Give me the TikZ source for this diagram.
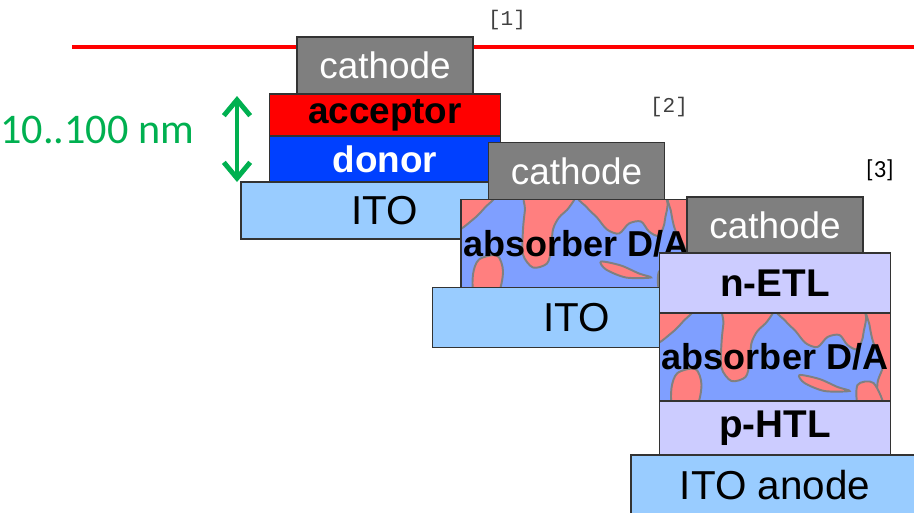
\documentclass[tikz,border=0pt]{standalone}
\usepackage{fontspec}
\setmainfont{Liberation Sans}
\newfontfamily\labelfont{Carlito}
\newfontfamily\reffont{Liberation Mono}
\usetikzlibrary{arrows.meta, positioning}

\definecolor{cathodegray}{RGB}{127,127,127}
\definecolor{acceptorred}{RGB}{255,0,0}
\definecolor{donorblue}{RGB}{0,64,255}
\definecolor{itoblue}{RGB}{153,204,255}
\definecolor{transportlilac}{RGB}{204,204,255}
\definecolor{blendblue}{RGB}{127,159,255}
\definecolor{blendred}{RGB}{255,127,127}
\definecolor{blendedge}{RGB}{128,128,128}
\definecolor{dimgreen}{RGB}{0,176,80}

\newcommand{\pxu}{0.02cm}

\tikzset{
    layer/.style={rectangle, draw=black!80, line width=1pt, inner sep=0pt, outer sep=0pt, align=center},
    cathode/.style={layer, fill=cathodegray, text=white, font=\fontsize{21}{24}\selectfont, minimum width=176*\pxu, minimum height=57*\pxu},
    acceptor/.style={layer, fill=acceptorred, font=\bfseries\fontsize{21}{24}\selectfont, minimum width=231*\pxu, minimum height=42*\pxu},
    donor/.style={layer, fill=donorblue, text=white, font=\bfseries\fontsize{21}{24}\selectfont, minimum width=231*\pxu, minimum height=46*\pxu},
    ito/.style={layer, fill=itoblue, font=\fontsize{23}{26}\selectfont, minimum width=288*\pxu, minimum height=57*\pxu},
    transport/.style={layer, fill=transportlilac, font=\bfseries\fontsize{22}{25}\selectfont, minimum width=231*\pxu, minimum height=60*\pxu},
    blendbase/.style={rectangle, fill=blendblue, inner sep=0pt, outer sep=0pt, minimum width=231*\pxu, minimum height=88*\pxu},
    absorber/.style={layer, font=\bfseries\fontsize{20.5}{24}\selectfont, minimum width=231*\pxu, minimum height=88*\pxu},
    blob/.style={fill=blendred, draw=blendedge, line width=1.1pt},
    contact/.style={draw=red, line width=2.3pt},
    dimarrow/.style={draw=dimgreen, line width=2.8pt, line cap=round, {Straight Barb[length=9pt,width=15pt]}-{Straight Barb[length=9pt,width=15pt]}},
    ref/.style={font=\reffont\fontsize{12}{14}\selectfont, text=black!75},
    % phase pattern of the donor/acceptor blend, origin at the top left corner
    blend/.pic={
        \begin{scope}
            \clip (0,0) rectangle (231,88);
            \draw[blob] plot[smooth cycle] coordinates {(-5,-5) (34,-5) (24,8) (12,20) (-5,30)};
            \draw[blob] plot[smooth cycle] coordinates {(66,-5) (112,-5) (108,8) (98,18) (92,30) (90,50) (86,64) (72,68) (62,55) (62,30) (64,10)};
            \draw[blob] plot[smooth cycle] coordinates {(120,-5) (200,-5) (204,20) (198,36) (188,32) (180,22) (168,24) (158,34) (146,30) (136,18) (126,8)};
            \draw[blob] plot[smooth cycle] coordinates {(208,-5) (240,-5) (240,95) (220,95) (218,70) (224,50) (214,30) (210,12)};
            \draw[blob] plot[smooth cycle] coordinates {(18,60) (36,56) (42,72) (36,95) (14,95) (12,75)};
            \draw[blob] plot[smooth cycle] coordinates {(140,62) (160,66) (178,74) (190,78) (165,78) (145,70)};
            \draw[blob] plot[smooth cycle] coordinates {(198,72) (214,70) (224,95) (200,95)};
        \end{scope}
    }
}

\begin{document}
\begin{tikzpicture}[x=0.02cm, y=-0.02cm]
    \useasboundingbox (0,0) rectangle (914,512);

    % top contact line
    \coordinate (lstart) at (72,47);
    \coordinate (lend) at (914,47);
    \draw[contact] (lstart) -- (lend);

    % [1] bilayer
    \node (cat1) [cathode] at (385,65.5) {cathode};
    \node (acc) [acceptor, below=0pt of cat1] {acceptor};
    \node (don) [donor, below=0pt of acc] {donor};
    \node (ito1) [ito, below=0pt of don] {ITO};

    % [2] bulk heterojunction
    \node (cat2) [cathode] at (576.5,171) {cathode};
    \node (blend2) [blendbase, below=0pt of cat2] {};
    \pic at (blend2.north west) {blend};
    \node (abs2) [absorber] at (blend2) {absorber D/A};
    \node (ito2) [ito, minimum height=60*\pxu, below=0pt of abs2] {ITO};

    % [3] with transport layers
    \node (cat3) [cathode, minimum height=56*\pxu] at (775,225) {cathode};
    \node (etl) [transport, below=0pt of cat3] {n-ETL};
    \node (blend3) [blendbase, below=0pt of etl] {};
    \pic at (blend3.north west) {blend};
    \node (abs3) [absorber] at (blend3) {absorber D/A};
    \node (htl) [transport, minimum height=54*\pxu, below=0pt of abs3] {p-HTL};
    \node (ito3) [ito, minimum height=60*\pxu, below=0pt of htl] {ITO anode};

    % thickness of the active layers
    \coordinate (dimtop) at (237,96);
    \coordinate (dimbot) at (237,182);
    \draw[dimarrow] (dimtop) -- (dimbot);
    \node (dimtext) [font=\labelfont\fontsize{24}{28}\selectfont, text=dimgreen, anchor=west, inner sep=0pt] at (0,130) {10..100 nm};

    % references
    \node (ref1) [ref] at (507,20) {[1]};
    \node (ref2) [ref] at (669,107) {[2]};
    \node (ref3) [font=\labelfont\fontsize{14}{16}\selectfont] at (880,170) {[3]};

\end{tikzpicture}
\end{document}
